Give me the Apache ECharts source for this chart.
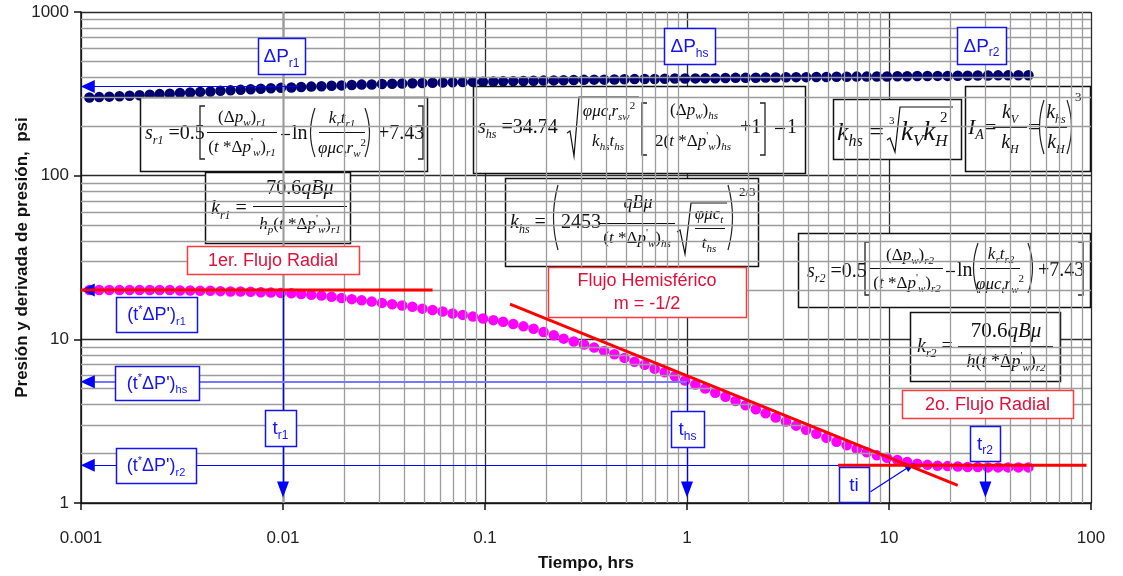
<!DOCTYPE html>
<html>
<head>
<meta charset="utf-8">
<script src="https://cdn.jsdelivr.net/npm/echarts@6/dist/echarts.min.js"></script>
<style>
  html, body { margin: 0; padding: 0; background: #fff; }
  #chart { width: 1123px; height: 576px; }
</style>
</head>
<body>
<div id="chart"></div>
<script>
// Time samples (hours) shared by the pressure and derivative curves
const times = [
  0.0011, 0.00123, 0.00138, 0.00155, 0.00174, 0.00195, 0.00219, 0.00245, 0.00275, 0.00309,
  0.00347, 0.00389, 0.00437, 0.0049, 0.0055, 0.00617, 0.00692, 0.00776, 0.00871, 0.00977,
  0.011, 0.0123, 0.0138, 0.0155, 0.0174, 0.0195, 0.0219, 0.0245, 0.0275, 0.0309,
  0.0347, 0.0389, 0.0437, 0.049, 0.055, 0.0617, 0.0692, 0.0776, 0.0871, 0.0977,
  0.11, 0.123, 0.138, 0.155, 0.174, 0.195, 0.219, 0.245, 0.275, 0.309,
  0.347, 0.389, 0.437, 0.49, 0.55, 0.617, 0.692, 0.776, 0.871, 0.977,
  1.1, 1.23, 1.38, 1.55, 1.74, 1.95, 2.19, 2.45, 2.75, 3.09,
  3.47, 3.89, 4.37, 4.9, 5.5, 6.17, 6.92, 7.76, 8.71, 9.77,
  11, 12.3, 13.8, 15.5, 17.4, 19.5, 21.9, 24.5, 27.5, 30.9,
  34.7, 38.9, 43.7, 49
];

// Pressure drop, psi
const pressure = [
  300, 302, 304, 306, 308, 310, 312, 315, 317, 320,
  322, 325, 327, 330, 332, 335, 337, 340, 342, 344,
  346, 348, 350, 352, 354, 356, 358, 360, 361, 363,
  364, 366, 367, 368, 370, 371, 372, 373, 374, 375,
  376, 377, 378, 379, 380, 381, 382, 383, 384, 385,
  386, 386, 387, 388, 389, 390, 390, 391, 392, 392,
  393, 394, 394, 395, 396, 396, 397, 398, 398, 399,
  400, 400, 401, 401, 402, 402, 403, 403, 404, 404,
  405, 405, 406, 406, 407, 407, 408, 408, 409, 409,
  410, 410, 411, 411
];

// Pressure derivative t*dP', psi
const derivative = [
  20.0, 20.0, 20.0, 20.0, 20.0, 20.0, 20.0, 20.0, 20.0, 19.9,
  19.9, 19.8, 19.8, 19.7, 19.6, 19.6, 19.5, 19.4, 19.3, 19.2,
  19.1, 18.9, 18.7, 18.5, 18.2, 17.9, 17.6, 17.3, 17.0, 16.7,
  16.4, 16.1, 15.8, 15.4, 15.1, 14.8, 14.4, 14.1, 13.8, 13.4,
  13.1, 12.8, 12.4, 12.0, 11.6, 11.1, 10.6, 10.1, 9.7, 9.3,
  8.9, 8.5, 8.1, 7.7, 7.3, 7.0, 6.6, 6.3, 5.95, 5.6,
  5.3, 5.0, 4.72, 4.46, 4.2, 3.96, 3.74, 3.53, 3.33, 3.15,
  2.97, 2.8, 2.65, 2.5, 2.37, 2.25, 2.14, 2.04, 1.96, 1.89,
  1.83, 1.78, 1.74, 1.71, 1.69, 1.68, 1.67, 1.66, 1.66, 1.65,
  1.65, 1.65, 1.65, 1.65
];

// Straight-line flow regimes [time, derivative]
const radial1Line = [[0.001, 20], [0.055, 20]];
const hemisphericLine = [[0.133, 16.4], [21.9, 1.28]];
const radial2Line = [[5.6, 1.7], [95, 1.7]];

// Characteristic readings
const dPr1Level = 351;
const derivR1Level = 20;
const derivHsLevel = 5.5;
const derivR2Level = 1.7;
const tR1 = 0.01;
const tHs = 1;
const tR2 = 30;
const tiArrow = [[8.1, 1.17], [12.8, 1.69]];

// Axis labels
const xTickLabels = ['0.001', '0.01', '0.1', '1', '10', '100'];
const yTickLabels = ['1', '10', '100', '1000'];
const xDecades = [0.001, 0.01, 0.1, 1, 10];
const yDecades = [1, 10, 100];
const minorSteps = [2, 3, 4, 5, 6, 7, 8, 9];

const X_MIN = 0.001, X_MAX = 100, Y_MIN = 1, Y_MAX = 1000;
const ARROW_EDGE_X = 0.00108;   // left arrows end on the y axis
const ARROW_FOOT_Y = 1.21;      // down arrows end on the x axis

const SERIF = '"Liberation Serif", "Times New Roman", serif';
const SANS = '"Liberation Sans", Arial, sans-serif';
const BLUE = '#1414f0';
const RED_TEXT = '#e0103a';
const RED_LINE = '#ff0000';

function minorValues(decades) {
  const out = [];
  decades.forEach(d => minorSteps.forEach(k => out.push(+(k * d).toPrecision(3))));
  return out;
}

// ---------- formula drawing helpers ----------
function mathRich(size) {
  const sub = Math.round(size * 0.62);
  const lh = Math.round(size * 1.3);
  const base = { fontFamily: SERIF, fill: '#111' };
  return {
    i: Object.assign({ fontSize: size, fontStyle: 'italic', lineHeight: lh, verticalAlign: 'middle' }, base),
    r: Object.assign({ fontSize: size, lineHeight: lh, verticalAlign: 'middle' }, base),
    s: Object.assign({ fontSize: sub, fontStyle: 'italic', lineHeight: sub, verticalAlign: 'bottom' }, base),
    u: Object.assign({ fontSize: sub, lineHeight: sub, verticalAlign: 'top' }, base)
  };
}
function mt(x, y, text, size, align) {
  return { type: 'text', x: x, y: y, style: {
    text: text, align: align || 'left', verticalAlign: 'middle',
    rich: mathRich(size), fontFamily: SERIF, fontSize: size, fill: '#111'
  } };
}
function bar(x1, x2, y) {
  return { type: 'line', shape: { x1: x1, y1: y + 0.5, x2: x2, y2: y + 0.5 }, style: { stroke: '#111', lineWidth: 1 } };
}
function bracket(x, y1, y2, open) {
  const d = open ? 5 : -5;
  return { type: 'polyline', shape: { points: [[x + d, y1], [x, y1], [x, y2], [x + d, y2]] },
    style: { stroke: '#222', fill: null, lineWidth: 1.3 } };
}
function paren(x, y1, y2, open) {
  const d = open ? 1 : -1;
  return { type: 'bezierCurve', shape: { x1: x + 4 * d, y1: y1, x2: x + 4 * d, y2: y2, cpx1: x - 5 * d, cpy1: (y1 + y2) / 2 },
    style: { stroke: '#222', fill: null, lineWidth: 1.2 } };
}
function radical(points) {
  return { type: 'polyline', shape: { points: points }, style: { stroke: '#111', fill: null, lineWidth: 1.2 } };
}
function minus(x1, x2, y) {
  return { type: 'line', shape: { x1: x1, y1: y + 0.5, x2: x2, y2: y + 0.5 }, style: { stroke: '#111', lineWidth: 1.2 } };
}
function formulaBox(x, y, w, h, parts) {
  const children = [{ type: 'rect', shape: { x: 0.5, y: 0.5, width: w, height: h },
    style: { fill: '#fff', stroke: '#111', lineWidth: 1.5 } }].concat(parts);
  children.forEach(c => { c.z = 5; });
  return { type: 'group', x: x, y: y, children: children };
}

// ---------- label boxes ----------
function labelRich(size, color) {
  const sub = Math.round(size * 0.62);
  const lh = Math.round(size * 1.3);
  return {
    a: { fontFamily: SANS, fontSize: size, fill: color, lineHeight: lh, verticalAlign: 'middle' },
    b: { fontFamily: SANS, fontSize: sub, fill: color, lineHeight: sub, verticalAlign: 'bottom' },
    c: { fontFamily: SANS, fontSize: sub, fill: color, lineHeight: sub, verticalAlign: 'top' }
  };
}
function blueBox(x, y, w, h, text, size) {
  return [
    { type: 'rect', z: 10, shape: { x: x + 0.5, y: y + 0.5, width: w, height: h },
      style: { fill: '#fff', stroke: BLUE, lineWidth: 1.5 } },
    { type: 'text', z: 11, x: x + w / 2, y: y + h / 2 + 1,
      style: { text: text, align: 'center', verticalAlign: 'middle', rich: labelRich(size, BLUE) } }
  ];
}
function redBox(x, y, w, h, text, size) {
  return [
    { type: 'rect', z: 10, shape: { x: x + 0.5, y: y + 0.5, width: w, height: h },
      style: { fill: '#fff', stroke: '#ff3a3a', lineWidth: 1.5 } },
    { type: 'text', z: 11, x: x + w / 2, y: y + h / 2 + 1,
      style: { text: text, align: 'center', verticalAlign: 'middle', fontFamily: SANS,
        fontSize: size, lineHeight: size + 5, fill: RED_TEXT } }
  ];
}

const DPW = '{r|(Δ}{i|p}{s|w}{r|)}';
const TDPW = '{r|(}{i|t}{r| *Δ}{i|p}{u|\'}{s|w}{r|)}';

const formulas = [
  // s_r1
  formulaBox(140, 97, 287, 74, [
    mt(5, 37, '{i|s}{s|r1}{r| =0.5}', 20),
    bracket(60, 9, 62, true),
    mt(102, 21, DPW + '{s|r1}', 17, 'center'),
    bar(67, 137, 35),
    mt(102, 51, TDPW + '{s|r1}', 17, 'center'),
    minus(141, 150, 37),
    mt(152, 37, '{r|ln}', 20),
    paren(171, 11, 60, true),
    mt(202, 22, '{i|k}{s|r}{i|t}{s|r1}', 17, 'center'),
    bar(179, 225, 35),
    mt(202, 52, '{i|φμc}{s|t}{i|r}{s|w}{u|2}', 17, 'center'),
    paren(229, 11, 60, false),
    mt(238, 37, '{r|+7.43}', 20),
    bracket(283, 9, 62, false)
  ]),
  // k_r1
  formulaBox(205, 172, 145, 71, [
    mt(6, 37, '{i|k}{s|r1}{r| =}', 20),
    mt(95, 17, '{r|70.6}{i|qBμ}', 20, 'center'),
    bar(48, 142, 34),
    mt(95, 53, '{i|h}{s|p}' + TDPW + '{s|r1}', 17, 'center')
  ]),
  // s_hs
  formulaBox(473, 86, 332, 87, [
    mt(5, 42, '{i|s}{s|hs}{r| =34.74}', 20),
    radical([[94, 47], [97, 45], [101, 70], [106, 11], [166, 11]]),
    mt(136, 26, '{i|φμc}{s|t}{i|r}{s|sw}{u|2}', 17, 'center'),
    bar(106, 165, 40),
    mt(135, 56, '{i|k}{s|hs}{i|t}{s|hs}', 17, 'center'),
    bracket(169, 17, 69, true),
    mt(221, 25, DPW + '{s|hs}', 17, 'center'),
    bar(175, 265, 40),
    mt(220, 56, '{r|2}' + TDPW + '{s|hs}', 17, 'center'),
    mt(267, 42, '{r|+1}', 20),
    bracket(292, 17, 69, false),
    minus(302, 312, 42),
    mt(314, 42, '{r|1}', 20)
  ]),
  // k_hs
  formulaBox(505, 178, 253, 88, [
    mt(5, 45, '{i|k}{s|hs}{r| =}', 20),
    paren(49, 7, 72, true),
    mt(56, 45, '{r|2453}', 20),
    mt(133, 25, '{i|qBμ}', 18, 'center'),
    bar(95, 170, 45),
    mt(132, 61, TDPW + '{s|hs}', 17, 'center'),
    radical([[172, 54], [175, 52], [180, 76], [186, 25], [222, 25]]),
    mt(204, 37, '{i|φμc}{s|t}', 17, 'center'),
    bar(190, 220, 50),
    mt(204, 66, '{i|t}{s|hs}', 17, 'center'),
    paren(227, 7, 72, false),
    mt(234, 15, '{r|2/3}', 13)
  ]),
  // cube-root permeability
  formulaBox(833, 99, 128, 60, [
    mt(4, 34, '{i|k}{s|hs}{r| =}', 26),
    mt(56, 22, '{r|3}', 11),
    radical([[54, 41], [57, 39], [62, 53], [67, 8], [120, 8]]),
    mt(68, 34, '{i|k}{s|V}{i|k}{s|H}', 27),
    mt(107, 19, '{r|2}', 15)
  ]),
  // anisotropy index
  formulaBox(965, 86, 125, 85, [
    mt(3, 42, '{i|I}{s|A}{r|=}', 22),
    mt(45, 27, '{i|k}{s|V}', 20, 'center'),
    bar(28, 62, 41),
    mt(45, 57, '{i|k}{s|H}', 20, 'center'),
    mt(63, 42, '{r|=}', 22),
    paren(75, 14, 68, true),
    mt(91, 27, '{i|k}{s|hs}', 20, 'center'),
    bar(80, 102, 41),
    mt(91, 57, '{i|k}{s|H}', 20, 'center'),
    paren(106, 14, 68, false),
    mt(110, 12, '{r|3}', 13)
  ]),
  // s_r2
  formulaBox(798, 233, 292, 74, [
    mt(9, 39, '{i|s}{s|r2}{r| =0.5}', 20),
    bracket(67, 9, 62, true),
    mt(112, 23, DPW + '{s|r2}', 17, 'center'),
    bar(72, 145, 35),
    mt(109, 51, TDPW + '{s|r2}', 17, 'center'),
    minus(148, 157, 38),
    mt(159, 38, '{r|ln}', 20),
    paren(176, 10, 60, true),
    mt(203, 22, '{i|k}{s|r}{i|t}{s|r2}', 17, 'center'),
    bar(182, 222, 35),
    mt(202, 52, '{i|φμc}{s|t}{i|r}{s|w}{u|2}', 17, 'center'),
    paren(234, 10, 60, false),
    mt(240, 38, '{r|+7.43}', 20),
    bracket(285, 9, 62, false)
  ]),
  // k_r2
  formulaBox(910, 312, 150, 69, [
    mt(7, 35, '{i|k}{s|r2}{r| =}', 20),
    mt(96, 19, '{r|70.6}{i|qBμ}', 21, 'center'),
    bar(48, 143, 34),
    mt(96, 50, '{i|h}' + TDPW + '{s|r2}', 18, 'center')
  ])
];

const labels = [].concat(
  blueBox(258, 38, 47, 36, '{a|ΔP}{b|r1}', 19),
  blueBox(664, 28, 51, 36, '{a|ΔP}{b|hs}', 19),
  blueBox(957, 27, 49, 37, '{a|ΔP}{b|r2}', 19),
  blueBox(116, 297, 81, 35, '{a|(t}{c|*}{a|ΔP\')}{b|r1}', 18),
  blueBox(115, 366, 84, 34, '{a|(t}{c|*}{a|ΔP\')}{b|hs}', 18),
  blueBox(116, 448, 80, 35, '{a|(t}{c|*}{a|ΔP\')}{b|r2}', 18),
  blueBox(265, 410, 31, 36, '{a|t}{b|r1}', 19),
  blueBox(671, 411, 33, 36, '{a|t}{b|hs}', 19),
  blueBox(970, 426, 30, 35, '{a|t}{b|r2}', 19),
  blueBox(839, 467, 30, 35, '{a|ti}', 19),
  redBox(187, 246, 172, 28, '1er. Flujo Radial', 18),
  redBox(548, 267, 198, 50, 'Flujo Hemisférico\nm = -1/2', 18),
  redBox(902, 390, 171, 28, '2o. Flujo Radial', 18)
);

// Guide lines from characteristic points to the axes
const LEFT_ARROW = { symbol: 'triangle', symbolSize: [13, 14] };
const DOWN_ARROW = { symbol: 'triangle', symbolSize: [12, 16] };
function hGuide(level, xEnd, lineStyle) {
  const seg = [Object.assign({ coord: [ARROW_EDGE_X, level] }, LEFT_ARROW), { coord: [xEnd, level], symbol: 'none' }];
  if (lineStyle) seg[0].lineStyle = lineStyle;
  return seg;
}
function vGuide(t, level) {
  return [{ coord: [t, level], symbol: 'none' }, Object.assign({ coord: [t, ARROW_FOOT_Y] }, DOWN_ARROW)];
}

const option = {
  animation: false,
  backgroundColor: '#fff',
  grid: { left: 81, right: 32, top: 12, bottom: 73, containLabel: false, outerBoundsMode: 'none' },
  xAxis: {
    type: 'log', logBase: 10, min: X_MIN, max: X_MAX,
    name: 'Tiempo, hrs', nameLocation: 'middle', nameGap: 52, nameMoveOverlap: false,
    nameTextStyle: { fontFamily: SANS, fontSize: 17, fontWeight: 'bold', color: '#111' },
    axisLine: { show: true, onZero: false, lineStyle: { color: '#111', width: 1.5 } },
    axisTick: { show: true, inside: false, length: 7, lineStyle: { color: '#111', width: 1.5 } },
    axisLabel: { fontFamily: SANS, fontSize: 17, color: '#222', margin: 27,
      formatter: v => xTickLabels[Math.round(Math.log10(v)) + 3] },
    splitLine: { show: true, lineStyle: { color: '#2a2a2a', width: 1.3 } },
    minorTick: { show: false }, minorSplitLine: { show: false }
  },
  yAxis: {
    type: 'log', logBase: 10, min: Y_MIN, max: Y_MAX,
    name: 'Presión y derivada de presión,  psi', nameLocation: 'middle', nameGap: 50, nameRotate: 90,
    nameMoveOverlap: false,
    nameTextStyle: { fontFamily: SANS, fontSize: 17, fontWeight: 'bold', color: '#111' },
    axisLine: { show: true, lineStyle: { color: '#111', width: 1.5 } },
    axisTick: { show: true, inside: false, length: 7, lineStyle: { color: '#111', width: 1.5 } },
    axisLabel: { fontFamily: SANS, fontSize: 17, color: '#222', margin: 12,
      formatter: v => yTickLabels[Math.round(Math.log10(v))] },
    splitLine: { show: true, lineStyle: { color: '#2a2a2a', width: 1.3 } },
    minorTick: { show: false }, minorSplitLine: { show: false }
  },
  graphic: { elements: formulas.concat(labels) },
  series: [
    {
      // minor grid at 2..9 within every decade
      type: 'line', data: [], z: 1, silent: true,
      markLine: {
        silent: true, symbol: ['none', 'none'], label: { show: false },
        lineStyle: { color: '#9c9c9c', width: 1.3, type: 'solid' },
        emphasis: { disabled: true },
        data: minorValues(xDecades).map(v => ({ xAxis: v }))
          .concat(minorValues(yDecades).map(v => ({ yAxis: v })))
      }
    },
    {
      name: 'Presión', type: 'scatter', z: 3,
      data: times.map((t, i) => [t, pressure[i]]),
      symbol: 'circle', symbolSize: 10.5,
      itemStyle: { color: '#00006e', opacity: 1 }
    },
    {
      name: 'Derivada', type: 'scatter', z: 3,
      data: times.map((t, i) => [t, derivative[i]]),
      symbol: 'circle', symbolSize: 10.5,
      itemStyle: { color: '#ff00ff', opacity: 1 }
    },
    {
      // reading guides
      type: 'line', data: [], z: 4, silent: true,
      markLine: {
        silent: true, label: { show: false }, emphasis: { disabled: true },
        lineStyle: { color: '#0000ff', width: 1.2, type: 'solid' },
        itemStyle: { color: '#0000ff' },
        data: [
          hGuide(dPr1Level, 0.012),
          hGuide(derivR1Level, tR1),
          vGuide(tR1, derivR1Level),
          hGuide(derivHsLevel, tHs, { color: '#7878ff', width: 2 }),
          vGuide(tHs, derivHsLevel),
          hGuide(derivR2Level, tR2),
          vGuide(tR2, derivR2Level),
          [{ coord: tiArrow[0], symbol: 'none' },
           { coord: tiArrow[1], symbol: 'triangle', symbolSize: [8, 11] }]
        ]
      }
    },
    {
      // left arrowhead of the hemispherical reading, kept solid blue
      type: 'line', data: [], z: 4, silent: true,
      markLine: {
        silent: true, label: { show: false }, emphasis: { disabled: true },
        lineStyle: { color: '#0000ff', width: 0.01 },
        data: [[Object.assign({ coord: [ARROW_EDGE_X, derivHsLevel] }, LEFT_ARROW),
                { coord: [0.0012, derivHsLevel], symbol: 'none' }]]
      }
    },
    {
      type: 'line', data: radial1Line, z: 5, symbol: 'none', silent: true,
      lineStyle: { color: RED_LINE, width: 3 }
    },
    {
      type: 'line', data: hemisphericLine, z: 5, symbol: 'none', silent: true,
      lineStyle: { color: RED_LINE, width: 3 }
    },
    {
      type: 'line', data: radial2Line, z: 5, symbol: 'none', silent: true,
      lineStyle: { color: RED_LINE, width: 3 }
    }
  ]
};

const chart = echarts.init(document.getElementById('chart'), null, { renderer: 'canvas' });
chart.setOption(option);
</script>
</body>
</html>
